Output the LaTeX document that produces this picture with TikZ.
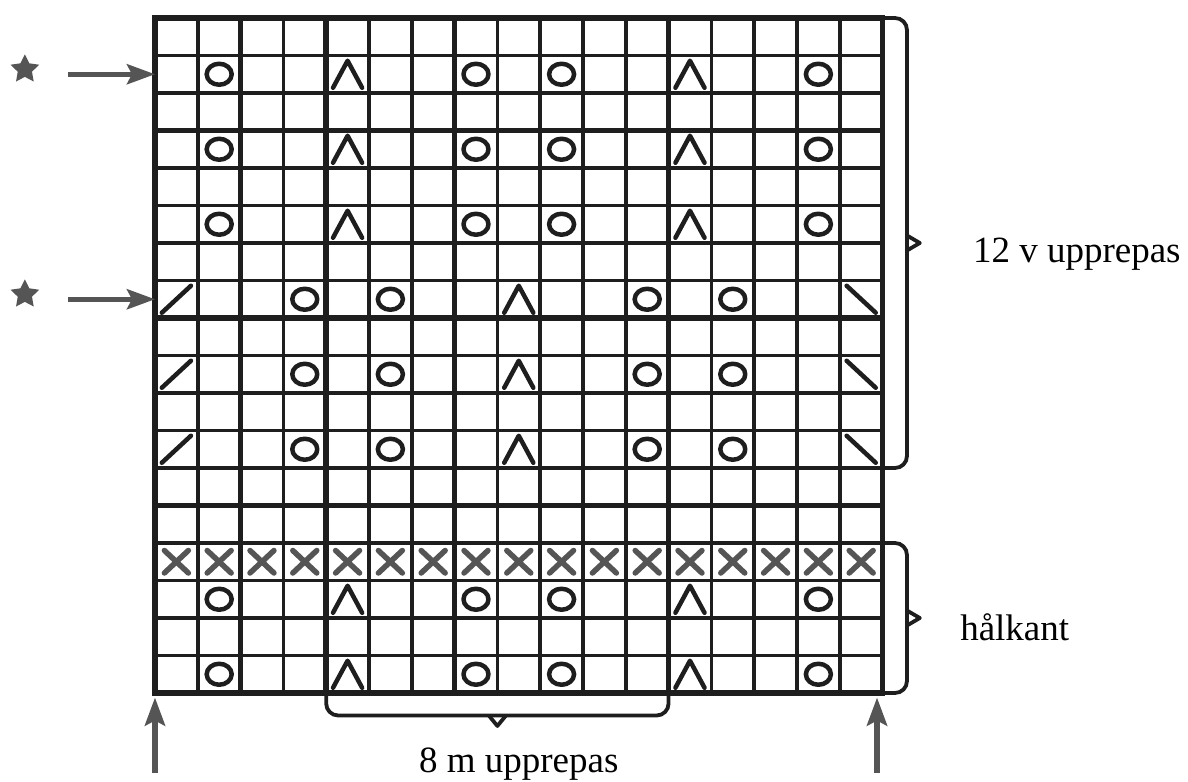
\documentclass[tikz,border=0pt]{standalone}
\usepackage{fontspec}
\setmainfont{Liberation Serif}
\usetikzlibrary{arrows.meta,shapes.geometric}
\definecolor{ink}{RGB}{30,30,30}
\definecolor{scan}{RGB}{85,85,85}
\tikzset{
    gridline/.style={ink, line width=3.6pt},
    gridbold/.style={ink, line width=5.5pt},
    sym/.style={ink, line width=4.5pt, line cap=round, line join=round},
    clamp/.style={ink, line width=3.8pt, rounded corners=12pt},
    ptr/.style={scan, line width=5pt, -{Stealth[length=28pt,width=20pt,inset=5pt]}},
    stjarna/.style={star, star points=5, star point ratio=2.0, fill=scan, minimum size=30pt, inner sep=0pt},
    lbltext/.style={font=\fontsize{37}{40}\selectfont, inner sep=0pt},
    omsl/.pic={\draw[sym] (0,0) ellipse (12.5pt and 10.5pt);},
    tretills/.pic={\draw[sym] (-0.34,-0.36) -- (0,0.36) -- (0.34,-0.36);},
    hogertills/.pic={\draw[sym] (-0.34,-0.36) -- (0.34,0.36);},
    vanstertills/.pic={\draw[sym] (-0.34,0.36) -- (0.34,-0.36);},
    kryss/.pic={\draw[sym, scan, line width=5.5pt] (-0.28,-0.3) -- (0.28,0.3) (-0.28,0.3) -- (0.28,-0.3);}
}
\begin{document}
\begin{tikzpicture}[x=42.8pt, y=37.5pt]
    \useasboundingbox (-3.621,-2.373) rectangle (24.136,18.48);

    % Chart grid
    \draw[gridline, step=1] (0,0) grid (17,18);
    \draw[gridbold] (0,0) rectangle (17,18);
    \draw[gridbold] (2,0) -- (2,18) (4,0) -- (4,18) (7,0) -- (7,18) (12,0) -- (12,18);
    \draw[gridbold] (0,15) -- (17,15) (0,10) -- (17,10) (0,5) -- (17,5);

    % Rows 2, 4, 6
    \pic at (1.5,16.5) {omsl}; \pic at (4.5,16.5) {tretills}; \pic at (7.5,16.5) {omsl};
    \pic at (9.5,16.5) {omsl}; \pic at (12.5,16.5) {tretills}; \pic at (15.5,16.5) {omsl};
    \pic at (1.5,14.5) {omsl}; \pic at (4.5,14.5) {tretills}; \pic at (7.5,14.5) {omsl};
    \pic at (9.5,14.5) {omsl}; \pic at (12.5,14.5) {tretills}; \pic at (15.5,14.5) {omsl};
    \pic at (1.5,12.5) {omsl}; \pic at (4.5,12.5) {tretills}; \pic at (7.5,12.5) {omsl};
    \pic at (9.5,12.5) {omsl}; \pic at (12.5,12.5) {tretills}; \pic at (15.5,12.5) {omsl};

    % Rows 8, 10, 12
    \pic at (0.5,10.5) {hogertills}; \pic at (3.5,10.5) {omsl}; \pic at (5.5,10.5) {omsl}; \pic at (8.5,10.5) {tretills};
    \pic at (11.5,10.5) {omsl}; \pic at (13.5,10.5) {omsl}; \pic at (16.5,10.5) {vanstertills};
    \pic at (0.5,8.5) {hogertills}; \pic at (3.5,8.5) {omsl}; \pic at (5.5,8.5) {omsl}; \pic at (8.5,8.5) {tretills};
    \pic at (11.5,8.5) {omsl}; \pic at (13.5,8.5) {omsl}; \pic at (16.5,8.5) {vanstertills};
    \pic at (0.5,6.5) {hogertills}; \pic at (3.5,6.5) {omsl}; \pic at (5.5,6.5) {omsl}; \pic at (8.5,6.5) {tretills};
    \pic at (11.5,6.5) {omsl}; \pic at (13.5,6.5) {omsl}; \pic at (16.5,6.5) {vanstertills};

    % Edge: crosses, then rows 16, 18
    \pic at (0.5,3.5) {kryss}; \pic at (1.5,3.5) {kryss}; \pic at (2.5,3.5) {kryss}; \pic at (3.5,3.5) {kryss};
    \pic at (4.5,3.5) {kryss}; \pic at (5.5,3.5) {kryss}; \pic at (6.5,3.5) {kryss}; \pic at (7.5,3.5) {kryss};
    \pic at (8.5,3.5) {kryss}; \pic at (9.5,3.5) {kryss}; \pic at (10.5,3.5) {kryss}; \pic at (11.5,3.5) {kryss};
    \pic at (12.5,3.5) {kryss}; \pic at (13.5,3.5) {kryss}; \pic at (14.5,3.5) {kryss}; \pic at (15.5,3.5) {kryss};
    \pic at (16.5,3.5) {kryss};
    \pic at (1.5,2.5) {omsl}; \pic at (4.5,2.5) {tretills}; \pic at (7.5,2.5) {omsl};
    \pic at (9.5,2.5) {omsl}; \pic at (12.5,2.5) {tretills}; \pic at (15.5,2.5) {omsl};
    \pic at (1.5,0.5) {omsl}; \pic at (4.5,0.5) {tretills}; \pic at (7.5,0.5) {omsl};
    \pic at (9.5,0.5) {omsl}; \pic at (12.5,0.5) {tretills}; \pic at (15.5,0.5) {omsl};

    % Braces
    \draw[clamp] (17,18) -- (17.57,18) -- (17.57,6) -- (17,6);
    \draw[sym, line width=3.8pt] (17.57,12.2) -- (17.87,12) -- (17.57,11.8);
    \draw[clamp] (17,4) -- (17.57,4) -- (17.57,0) -- (17,0);
    \draw[sym, line width=3.8pt] (17.57,2.2) -- (17.87,2) -- (17.57,1.8);
    \draw[clamp] (4,0) -- (4,-0.6) -- (12,-0.6) -- (12,0);
    \draw[sym, line width=3.8pt] (7.8,-0.6) -- (8,-0.88) -- (8.2,-0.6);

    % Labels
    \node[lbltext, anchor=base west] (rep12) at (19.11,11.49) {12 v upprepas};
    \node[lbltext, anchor=base west] (kant) at (18.81,1.41) {hålkant};
    \node[lbltext, anchor=base] (rep8) at (8.5,-2.13) {8 m upprepas};

    % Start rows and edge stitches
    \node[stjarna] (star1) at (-3.04,16.63) {};
    \node[stjarna] (star2) at (-3.04,10.63) {};
    \coordinate (tail1) at (-2.03,16.5); \coordinate (tip1) at (0,16.5);
    \coordinate (tail2) at (-2.03,10.5); \coordinate (tip2) at (0,10.5);
    \draw[ptr] (tail1) -- (tip1);
    \draw[ptr] (tail2) -- (tip2);
    \coordinate (foot1) at (0,-2.13); \coordinate (head1) at (0,-0.12);
    \coordinate (foot2) at (16.87,-2.13); \coordinate (head2) at (16.87,-0.12);
    \draw[ptr, line width=6pt] (foot1) -- (head1);
    \draw[ptr, line width=6pt] (foot2) -- (head2);
\end{tikzpicture}
\end{document}
